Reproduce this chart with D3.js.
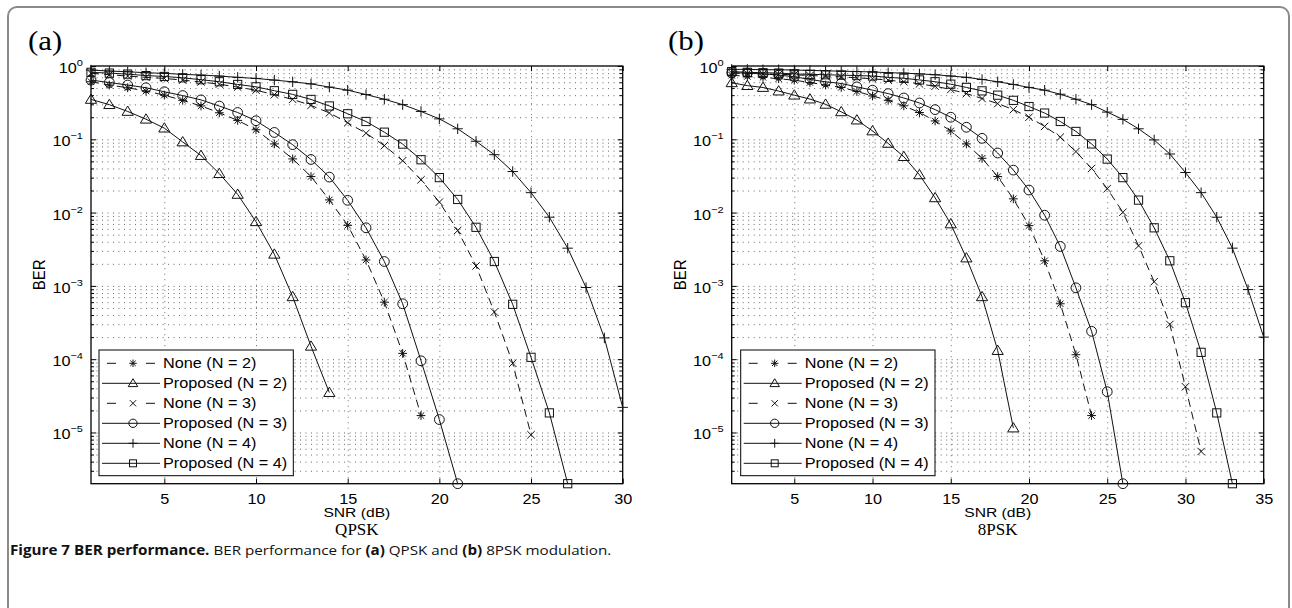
<!DOCTYPE html>
<html><head><meta charset="utf-8">
<script src="https://cdn.jsdelivr.net/npm/d3@7"></script>
<style>
body{margin:0;background:#fff;}
svg{display:block;}
</style></head><body>
<svg id="chart" width="1292" height="608"></svg>
<script>
// ---------- DATA ----------
const snrQPSK = [1,2,3,4,5,6,7,8,9,10,11,12,13,14,15,16,17,18,19,20,21,22,23,24,25,26,27,28,29,30];
const snr8PSK = [1,2,3,4,5,6,7,8,9,10,11,12,13,14,15,16,17,18,19,20,21,22,23,24,25,26,27,28,29,30,31,32,33,34,35];

const seriesLabels = ["None (N = 2)", "Proposed (N = 2)", "None (N = 3)", "Proposed (N = 3)", "None (N = 4)", "Proposed (N = 4)"];
const seriesMarkers = ["star", "tri", "x", "circle", "plus", "square"];
const seriesDashed = [true, false, true, false, false, false];

// (a) QPSK
const qpskNoneN2 = [0.61,0.55,0.505,0.455,0.40,0.34,0.285,0.23,0.181,0.135,0.0865,0.054,0.031,0.0149,0.0067,0.00226,6.0e-4,1.2e-4,1.7e-5];
const qpskPropN2 = [0.35,0.297,0.24,0.188,0.142,0.092,0.060,0.034,0.0177,0.0075,0.0027,7.1e-4,1.5e-4,3.5e-5];
const qpskNoneN3 = [0.794,0.76,0.729,0.70,0.677,0.642,0.605,0.565,0.515,0.468,0.405,0.35,0.29,0.229,0.168,0.121,0.082,0.051,0.028,0.0139,0.0057,0.00187,4.4e-4,8.8e-5,9.3e-6];
const qpskPropN3 = [0.642,0.595,0.55,0.505,0.445,0.395,0.345,0.284,0.232,0.179,0.124,0.0845,0.053,0.0305,0.0147,0.0062,0.00215,5.7e-4,9.5e-5,1.5e-5,2e-6];
const qpskNoneN4 = [0.881,0.853,0.835,0.809,0.794,0.769,0.752,0.729,0.70,0.677,0.642,0.608,0.57,0.515,0.468,0.408,0.352,0.297,0.24,0.19,0.139,0.094,0.0616,0.0363,0.0187,0.00865,0.00327,9.5e-4,1.95e-4,2.2e-5];
const qpskPropN4 = [0.82,0.80,0.775,0.74,0.72,0.69,0.65,0.61,0.56,0.52,0.46,0.41,0.35,0.285,0.223,0.175,0.125,0.086,0.0526,0.030,0.0151,0.0063,0.00215,5.6e-4,1.06e-4,1.85e-5,2e-6];

// (b) 8PSK
const psk8NoneN2 = [0.75,0.72,0.70,0.67,0.64,0.595,0.55,0.51,0.45,0.39,0.34,0.286,0.232,0.178,0.13,0.0865,0.055,0.031,0.0154,0.00664,0.0022,5.7e-4,1.15e-4,1.7e-5];
const psk8PropN2 = [0.59,0.54,0.509,0.455,0.40,0.354,0.30,0.237,0.183,0.13,0.088,0.058,0.0327,0.0159,0.007,0.0024,7.1e-4,1.31e-4,1.15e-5];
const psk8NoneN3 = [0.80,0.79,0.78,0.77,0.76,0.74,0.73,0.71,0.69,0.67,0.64,0.61,0.57,0.53,0.478,0.42,0.36,0.307,0.254,0.20,0.15,0.107,0.068,0.040,0.0212,0.0101,0.00352,1.14e-3,2.98e-4,4.2e-5,5.5e-6];
const psk8PropN3 = [0.81,0.80,0.78,0.752,0.713,0.656,0.608,0.578,0.519,0.468,0.42,0.366,0.313,0.254,0.20,0.146,0.103,0.065,0.038,0.0203,0.0092,0.00345,9.4e-4,2.4e-4,3.6e-5,2e-6];
const psk8NoneN4 = [0.90,0.90,0.89,0.89,0.88,0.87,0.86,0.85,0.84,0.83,0.81,0.80,0.78,0.76,0.73,0.70,0.655,0.61,0.56,0.51,0.468,0.412,0.352,0.297,0.235,0.187,0.139,0.098,0.063,0.0352,0.0187,0.00865,0.00327,8.9e-4,2e-4];
const psk8PropN4 = [0.84,0.82,0.81,0.80,0.78,0.77,0.76,0.75,0.74,0.73,0.70,0.68,0.645,0.61,0.565,0.51,0.458,0.40,0.34,0.28,0.228,0.175,0.128,0.0865,0.0537,0.030,0.0148,0.0062,0.0022,5.9e-4,1.24e-4,1.85e-5,2e-6];

const xTicksQPSK = [5,10,15,20,25,30];
const xTicks8PSK = [5,10,15,20,25,30,35];
const yMajorTicks = [1, 1e-1, 1e-2, 1e-3, 1e-4, 1e-5];
const yTickExponents = ["0", "\u22121", "\u22122", "\u22123", "\u22124", "\u22125"];
const yDomain = [2e-6, 1];

// ---------- LAYOUT ----------
const svg = d3.select('#chart');
const SANS = "'Liberation Sans', Arial, Helvetica, sans-serif";
const SERIF = "'Liberation Serif', 'Times New Roman', serif";
const SX = 1.16; // horizontal stretch of the sans labels in the source figure
const yTop = 66, yBot = 483.7;

const panels = [
  {x0: 91, x1: 622.7, xmax: 30, snr: snrQPSK, xTicks: xTicksQPSK, label: "(a)", labelX: 28, title: "QPSK", legendX: 99,
   data: [qpskNoneN2, qpskPropN2, qpskNoneN3, qpskPropN3, qpskNoneN4, qpskPropN4]},
  {x0: 731.7, x1: 1263.7, xmax: 35, snr: snr8PSK, xTicks: xTicks8PSK, label: "(b)", labelX: 668, title: "8PSK", legendX: 740.7,
   data: [psk8NoneN2, psk8PropN2, psk8NoneN3, psk8PropN3, psk8NoneN4, psk8PropN4]}
];

// outer frame
svg.append('rect').attr('x', 8).attr('y', 7).attr('width', 1281).attr('height', 700)
  .attr('rx', 9).attr('fill', 'none').attr('stroke', '#8a8a8a').attr('stroke-width', 2);

function sText(g, x, y, txt, size, anchor) {
  return g.append('text').attr('transform', `translate(${x},${y}) scale(${SX},1)`)
    .attr('text-anchor', anchor || 'start').attr('font-family', SANS).attr('font-size', size)
    .attr('fill', '#000').text(txt);
}

function drawMarker(g, type, cx, cy, sc) {
  sc = sc || 1;
  const apply = sel => sel.attr('stroke', '#111').attr('stroke-width', 1).attr('fill', 'none');
  if (type === 'tri') {
    const h = 5.4 * sc, w = 5.6 * sc;
    apply(g.append('path').attr('d', `M${cx},${cy - h}L${cx + w},${cy + h * 0.72}L${cx - w},${cy + h * 0.72}Z`));
  } else if (type === 'circle') {
    apply(g.append('circle').attr('cx', cx).attr('cy', cy).attr('r', 4.9 * sc));
  } else if (type === 'square') {
    const s = 4.1 * sc;
    apply(g.append('rect').attr('x', cx - s).attr('y', cy - s).attr('width', 2 * s).attr('height', 2 * s));
  } else if (type === 'plus') {
    const s = 5.2 * sc;
    apply(g.append('path').attr('d', `M${cx - s},${cy}H${cx + s}M${cx},${cy - s}V${cy + s}`));
  } else if (type === 'x') {
    const s = 3.7 * sc;
    apply(g.append('path').attr('d', `M${cx - s},${cy - s}L${cx + s},${cy + s}M${cx - s},${cy + s}L${cx + s},${cy - s}`));
  } else if (type === 'star') {
    const s = 4.4 * sc, d = 3.2 * sc;
    apply(g.append('path').attr('d', `M${cx - s},${cy}H${cx + s}M${cx},${cy - s}V${cy + s}M${cx - d},${cy - d}L${cx + d},${cy + d}M${cx - d},${cy + d}L${cx + d},${cy - d}`));
  }
}

panels.forEach(p => {
  const x = d3.scaleLinear().domain([1, p.xmax]).range([p.x0, p.x1]);
  const y = d3.scaleLog().domain(yDomain).range([yBot, yTop]);
  const W = p.x1 - p.x0, H = yBot - yTop;
  const g = svg.append('g');

  const yAll = [];
  for (let e = -6; e < 0; e++) for (let m = 1; m <= 9; m++) {
    const v = m * Math.pow(10, e);
    if (v >= yDomain[0] * 1.0001 && v < 0.99) yAll.push(v);
  }
  const yMinor = yAll.filter(v => !yMajorTicks.some(t => Math.abs(v - t) / t < 1e-6));

  // horizontal grid
  g.append('g').attr('transform', `translate(${p.x0},0)`)
    .call(d3.axisLeft(y).tickValues(yAll).tickSize(-W).tickFormat(''))
    .call(s => s.select('.domain').remove())
    .selectAll('line').attr('stroke', '#444').attr('stroke-width', 0.8).attr('stroke-dasharray', '1,4.5');
  // vertical grid
  g.append('g').attr('transform', `translate(0,${yBot})`)
    .call(d3.axisBottom(x).tickValues(p.xTicks.filter(t => t < p.xmax)).tickSize(-H).tickFormat(''))
    .call(s => s.select('.domain').remove())
    .selectAll('line').attr('stroke', '#444').attr('stroke-width', 0.8).attr('stroke-dasharray', '1,4.5');

  // bottom axis with labels
  const bx = g.append('g').attr('transform', `translate(0,${yBot})`)
    .call(d3.axisBottom(x).tickValues(p.xTicks).tickSize(-5).tickPadding(10).tickFormat(d3.format('d')));
  bx.select('.domain').remove();
  bx.selectAll('line').attr('stroke', '#000');
  bx.selectAll('text').attr('font-family', SANS).attr('font-size', 14).attr('fill', '#000')
    .attr('transform', `scale(${SX},1)`);
  // top axis
  const tx = g.append('g').attr('transform', `translate(0,${yTop})`)
    .call(d3.axisTop(x).tickValues(p.xTicks).tickSize(-5).tickFormat(''));
  tx.select('.domain').remove(); tx.selectAll('line').attr('stroke', '#000');
  // left / right major + minor ticks
  [[d3.axisLeft, p.x0], [d3.axisRight, p.x1]].forEach(([ax, pos]) => {
    const a1 = g.append('g').attr('transform', `translate(${pos},0)`)
      .call(ax(y).tickValues(yMajorTicks).tickSize(-5).tickFormat(''));
    a1.select('.domain').remove(); a1.selectAll('line').attr('stroke', '#000');
    const a2 = g.append('g').attr('transform', `translate(${pos},0)`)
      .call(ax(y).tickValues(yMinor).tickSize(-3).tickFormat(''));
    a2.select('.domain').remove(); a2.selectAll('line').attr('stroke', '#000');
  });
  // y tick labels 10^k
  yMajorTicks.forEach((v, i) => {
    const t = sText(g, p.x0 - 8, y(v) + 7, null, 14, 'end');
    t.append('tspan').text('10');
    t.append('tspan').attr('font-size', 9.5).attr('dy', -7).text(yTickExponents[i]);
  });

  // box
  g.append('rect').attr('x', p.x0).attr('y', yTop).attr('width', W).attr('height', H)
    .attr('fill', 'none').attr('stroke', '#000').attr('stroke-width', 1.3);

  // curves
  const line = d3.line().x(d => x(d.snr)).y(d => y(d.v));
  p.data.forEach((vals, si) => {
    const pts = vals.map((v, i) => ({snr: p.snr[i], v}));
    g.append('path').datum(pts).attr('d', line).attr('fill', 'none').attr('stroke', '#111')
      .attr('stroke-width', 1).attr('stroke-dasharray', seriesDashed[si] ? '8,5' : null);
    pts.forEach(d => drawMarker(g, seriesMarkers[si], x(d.snr), y(d.v)));
  });

  // legend
  const lx = p.legendX, ly = 350, lw = 194.3, lh = 125.7;
  g.append('rect').attr('x', lx).attr('y', ly).attr('width', lw).attr('height', lh)
    .attr('fill', '#fff').attr('stroke', '#000').attr('stroke-width', 1);
  seriesLabels.forEach((lab, i) => {
    const ry = 363.3 + 20 * i;
    g.append('line').attr('x1', lx + 3).attr('x2', lx + 61).attr('y1', ry).attr('y2', ry)
      .attr('stroke', '#111').attr('stroke-width', 1)
      .attr('stroke-dasharray', seriesDashed[i] ? '0,5,9,30,9,20' : null);
    drawMarker(g, seriesMarkers[i], lx + 34, ry, 0.85);
    sText(g, lx + 64, ry + 5, lab, 14, 'start');
  });

  // axis titles
  g.append('text').attr('transform', `translate(${p.x0 - 46},${(yTop + yBot) / 2}) rotate(-90) scale(1,${SX})`)
    .attr('text-anchor', 'middle').attr('font-family', SANS).attr('font-size', 15).attr('fill', '#000').text('BER');
  sText(g, (p.x0 + p.x1) / 2, 517, 'SNR (dB)', 13.5, 'middle');
  g.append('text').attr('x', (p.x0 + p.x1) / 2).attr('y', 535).attr('text-anchor', 'middle')
    .attr('font-family', SERIF).attr('font-size', 17).attr('fill', '#000').text(p.title);
  g.append('text').attr('transform', `translate(${p.labelX},50) scale(1.1,1)`).attr('font-family', SERIF)
    .attr('font-size', 28).attr('fill', '#000').text(p.label);
});

// caption (fit to the source width)
const cap = svg.append('text').attr('font-family', "'Open Sans', 'Noto Sans', sans-serif")
  .attr('font-size', 13.5).attr('fill', '#111');
cap.append('tspan').attr('font-weight', 'bold').text('Figure 7 BER performance.');
cap.append('tspan').text(' BER performance for ');
cap.append('tspan').attr('font-weight', 'bold').text('(a)');
cap.append('tspan').text(' QPSK and ');
cap.append('tspan').attr('font-weight', 'bold').text('(b)');
cap.append('tspan').text(' 8PSK modulation.');
const capW = cap.node().getComputedTextLength();
cap.attr('transform', `translate(10,555) scale(${602 / capW},1)`);
</script>
</body></html>
